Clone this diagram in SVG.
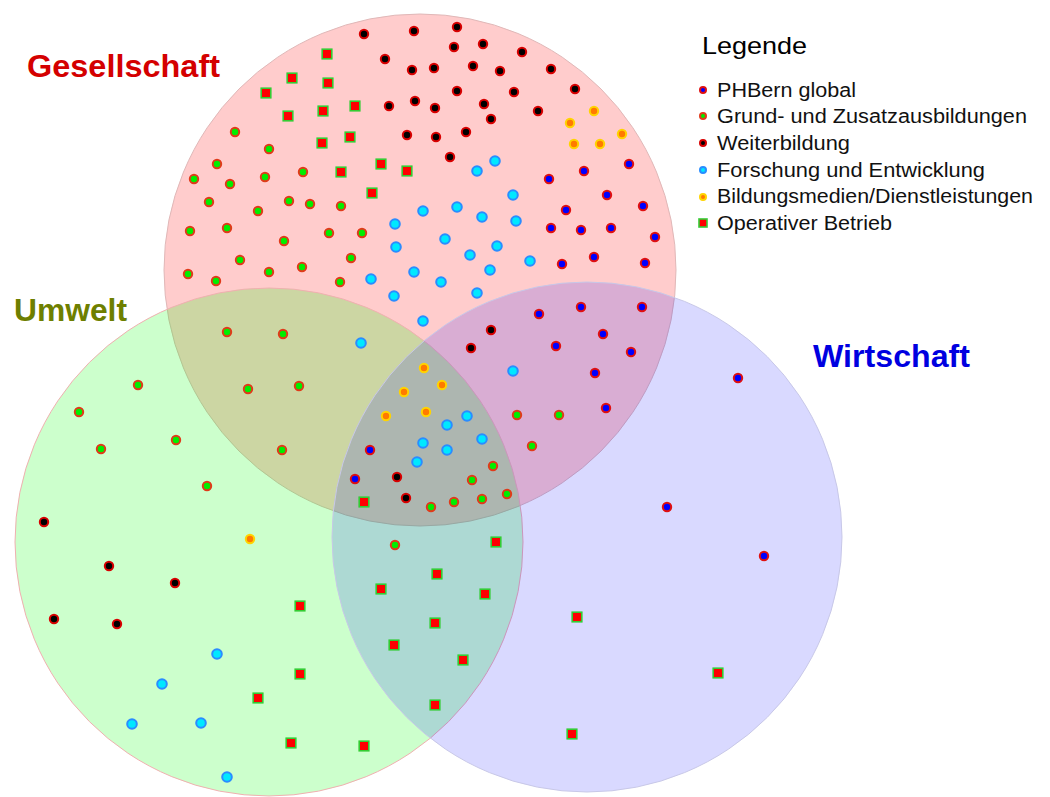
<svg xmlns="http://www.w3.org/2000/svg" xmlns:xlink="http://www.w3.org/1999/xlink" width="1050" height="797" viewBox="0 0 1050 797">
<style>
.lbl{font-family:"Liberation Sans",Arial,sans-serif;font-weight:bold;font-size:32px}
.leg{font-family:"Liberation Sans",Arial,sans-serif;font-size:19.5px;fill:#111}
.phb{fill:#0000ff;stroke:#e01010;stroke-width:2}
.gru{fill:#00ee00;stroke:#e03a1a;stroke-width:2}
.wei{fill:#000;stroke:#d80000;stroke-width:2}
.for{fill:#00e8ff;stroke:#2a8cff;stroke-width:2}
.bil{fill:#ff7a00;stroke:#ffd400;stroke-width:2}
.ope{fill:#ff0000;stroke:#33cc33;stroke-width:1.6}
</style>
<defs>
<circle id="mP" r="4.2" class="phb"/>
<circle id="mG" r="4.2" class="gru"/>
<circle id="mW" r="4.2" class="wei"/>
<circle id="mF" r="4.8" class="for"/>
<circle id="mB" r="4.2" class="bil"/>
<rect id="mO" x="-4.8" y="-4.8" width="9.6" height="9.6" class="ope"/>
</defs>
<rect width="1050" height="797" fill="#fff"/>
<g id="gesellschaft">
<circle cx="420" cy="270" r="256" fill="#ff0000" fill-opacity="0.2" stroke="#e0b8b8" stroke-width="1"/>
<text class="lbl" x="27" y="77" fill="#d40000" textLength="193" lengthAdjust="spacingAndGlyphs">Gesellschaft</text>
</g>
<g id="umwelt">
<circle cx="269" cy="542" r="254" fill="#00ff00" fill-opacity="0.2" stroke="#f0b0b0" stroke-width="1"/>
<text class="lbl" x="14" y="321" fill="#6e7f00" textLength="113" lengthAdjust="spacingAndGlyphs">Umwelt</text>
</g>
<g id="wirtschaft">
<circle cx="587" cy="537" r="255" fill="#0000ff" fill-opacity="0.15" stroke="#c8c8e8" stroke-width="1"/>
<text class="lbl" x="813" y="367" fill="#0000e0" textLength="157" lengthAdjust="spacingAndGlyphs">Wirtschaft</text>
</g>
<g id="connectors"/>
<g id="weiterbildung-dots">
<use xlink:href="#mW" x="364" y="34"/><use xlink:href="#mW" x="414" y="31"/><use xlink:href="#mW" x="457" y="27"/><use xlink:href="#mW" x="385" y="59"/><use xlink:href="#mW" x="412" y="70"/><use xlink:href="#mW" x="434" y="68"/><use xlink:href="#mW" x="454" y="47"/><use xlink:href="#mW" x="457" y="91"/><use xlink:href="#mW" x="389" y="106"/><use xlink:href="#mW" x="415" y="101"/><use xlink:href="#mW" x="435" y="108"/><use xlink:href="#mW" x="407" y="135"/><use xlink:href="#mW" x="436" y="137"/><use xlink:href="#mW" x="450" y="157"/><use xlink:href="#mW" x="483" y="44"/><use xlink:href="#mW" x="522" y="52"/><use xlink:href="#mW" x="473" y="66"/><use xlink:href="#mW" x="500" y="71"/><use xlink:href="#mW" x="551" y="69"/><use xlink:href="#mW" x="514" y="92"/><use xlink:href="#mW" x="575" y="89"/><use xlink:href="#mW" x="484" y="104"/><use xlink:href="#mW" x="491" y="119"/><use xlink:href="#mW" x="538" y="111"/><use xlink:href="#mW" x="466" y="132"/>
<use xlink:href="#mW" x="491" y="330"/><use xlink:href="#mW" x="471" y="348"/><use xlink:href="#mW" x="397" y="477"/><use xlink:href="#mW" x="406" y="498"/>
<use xlink:href="#mW" x="44" y="522"/><use xlink:href="#mW" x="109" y="566"/><use xlink:href="#mW" x="175" y="583"/><use xlink:href="#mW" x="54" y="619"/><use xlink:href="#mW" x="117" y="624"/>
</g>
<g id="grund-dots">
<use xlink:href="#mG" x="235" y="132"/><use xlink:href="#mG" x="269" y="149"/><use xlink:href="#mG" x="217" y="164"/><use xlink:href="#mG" x="194" y="179"/><use xlink:href="#mG" x="230" y="184"/><use xlink:href="#mG" x="265" y="177"/><use xlink:href="#mG" x="303" y="172"/><use xlink:href="#mG" x="209" y="202"/><use xlink:href="#mG" x="258" y="211"/><use xlink:href="#mG" x="289" y="201"/><use xlink:href="#mG" x="310" y="204"/><use xlink:href="#mG" x="341" y="206"/><use xlink:href="#mG" x="190" y="231"/><use xlink:href="#mG" x="227" y="228"/><use xlink:href="#mG" x="284" y="241"/><use xlink:href="#mG" x="329" y="233"/><use xlink:href="#mG" x="362" y="233"/><use xlink:href="#mG" x="240" y="260"/><use xlink:href="#mG" x="351" y="258"/><use xlink:href="#mG" x="188" y="274"/><use xlink:href="#mG" x="216" y="281"/><use xlink:href="#mG" x="269" y="272"/><use xlink:href="#mG" x="302" y="267"/><use xlink:href="#mG" x="340" y="282"/>
<use xlink:href="#mG" x="227" y="332"/><use xlink:href="#mG" x="283" y="334"/><use xlink:href="#mG" x="248" y="389"/><use xlink:href="#mG" x="299" y="386"/><use xlink:href="#mG" x="282" y="450"/>
<use xlink:href="#mG" x="138" y="385"/><use xlink:href="#mG" x="79" y="412"/><use xlink:href="#mG" x="176" y="440"/><use xlink:href="#mG" x="101" y="449"/><use xlink:href="#mG" x="207" y="486"/>
<use xlink:href="#mG" x="517" y="415"/><use xlink:href="#mG" x="559" y="415"/><use xlink:href="#mG" x="532" y="446"/>
<use xlink:href="#mG" x="493" y="466"/><use xlink:href="#mG" x="472" y="480"/><use xlink:href="#mG" x="431" y="507"/><use xlink:href="#mG" x="454" y="502"/><use xlink:href="#mG" x="482" y="499"/><use xlink:href="#mG" x="507" y="494"/>
<use xlink:href="#mG" x="395" y="545"/>
</g>
<g id="phbern-dots">
<use xlink:href="#mP" x="629" y="164"/><use xlink:href="#mP" x="584" y="171"/><use xlink:href="#mP" x="549" y="179"/><use xlink:href="#mP" x="607" y="195"/><use xlink:href="#mP" x="643" y="206"/><use xlink:href="#mP" x="566" y="210"/><use xlink:href="#mP" x="551" y="228"/><use xlink:href="#mP" x="581" y="230"/><use xlink:href="#mP" x="611" y="228"/><use xlink:href="#mP" x="655" y="237"/><use xlink:href="#mP" x="594" y="257"/><use xlink:href="#mP" x="562" y="264"/><use xlink:href="#mP" x="645" y="263"/>
<use xlink:href="#mP" x="539" y="314"/><use xlink:href="#mP" x="581" y="307"/><use xlink:href="#mP" x="642" y="307"/><use xlink:href="#mP" x="556" y="346"/><use xlink:href="#mP" x="603" y="334"/><use xlink:href="#mP" x="631" y="352"/><use xlink:href="#mP" x="595" y="373"/><use xlink:href="#mP" x="606" y="408"/>
<use xlink:href="#mP" x="370" y="450"/><use xlink:href="#mP" x="355" y="479"/>
<use xlink:href="#mP" x="667" y="507"/><use xlink:href="#mP" x="738" y="378"/><use xlink:href="#mP" x="764" y="556"/>
</g>
<g id="forschung-dots">
<use xlink:href="#mF" x="423" y="211"/><use xlink:href="#mF" x="457" y="207"/><use xlink:href="#mF" x="395" y="224"/><use xlink:href="#mF" x="396" y="247"/><use xlink:href="#mF" x="445" y="239"/><use xlink:href="#mF" x="414" y="272"/><use xlink:href="#mF" x="441" y="282"/><use xlink:href="#mF" x="371" y="279"/><use xlink:href="#mF" x="495" y="161"/><use xlink:href="#mF" x="477" y="171"/><use xlink:href="#mF" x="513" y="195"/><use xlink:href="#mF" x="482" y="217"/><use xlink:href="#mF" x="516" y="221"/><use xlink:href="#mF" x="497" y="246"/><use xlink:href="#mF" x="470" y="255"/><use xlink:href="#mF" x="530" y="261"/><use xlink:href="#mF" x="490" y="270"/>
<use xlink:href="#mF" x="394" y="296"/><use xlink:href="#mF" x="477" y="293"/><use xlink:href="#mF" x="423" y="321"/><use xlink:href="#mF" x="361" y="343"/><use xlink:href="#mF" x="513" y="371"/>
<use xlink:href="#mF" x="467" y="416"/><use xlink:href="#mF" x="447" y="425"/><use xlink:href="#mF" x="482" y="439"/><use xlink:href="#mF" x="423" y="443"/><use xlink:href="#mF" x="447" y="450"/><use xlink:href="#mF" x="417" y="462"/>
<use xlink:href="#mF" x="217" y="654"/><use xlink:href="#mF" x="162" y="684"/><use xlink:href="#mF" x="132" y="724"/><use xlink:href="#mF" x="201" y="723"/><use xlink:href="#mF" x="227" y="777"/>
</g>
<g id="bildungsmedien-dots">
<use xlink:href="#mB" x="594" y="111"/><use xlink:href="#mB" x="570" y="123"/><use xlink:href="#mB" x="622" y="134"/><use xlink:href="#mB" x="574" y="144"/><use xlink:href="#mB" x="600" y="144"/>
<use xlink:href="#mB" x="424" y="368"/><use xlink:href="#mB" x="442" y="385"/><use xlink:href="#mB" x="404" y="392"/><use xlink:href="#mB" x="426" y="412"/><use xlink:href="#mB" x="386" y="416"/>
<use xlink:href="#mB" x="250" y="539"/>
</g>
<g id="operativ-dots">
<use xlink:href="#mO" x="327" y="54"/><use xlink:href="#mO" x="292" y="78"/><use xlink:href="#mO" x="328" y="83"/><use xlink:href="#mO" x="266" y="93"/><use xlink:href="#mO" x="288" y="116"/><use xlink:href="#mO" x="323" y="111"/><use xlink:href="#mO" x="355" y="106"/><use xlink:href="#mO" x="322" y="143"/><use xlink:href="#mO" x="350" y="137"/><use xlink:href="#mO" x="341" y="172"/><use xlink:href="#mO" x="381" y="164"/><use xlink:href="#mO" x="407" y="171"/><use xlink:href="#mO" x="372" y="193"/>
<use xlink:href="#mO" x="364" y="502"/><use xlink:href="#mO" x="496" y="542"/><use xlink:href="#mO" x="437" y="574"/><use xlink:href="#mO" x="381" y="589"/><use xlink:href="#mO" x="485" y="594"/><use xlink:href="#mO" x="435" y="623"/><use xlink:href="#mO" x="394" y="645"/><use xlink:href="#mO" x="463" y="660"/><use xlink:href="#mO" x="435" y="705"/>
<use xlink:href="#mO" x="364" y="746"/><use xlink:href="#mO" x="300" y="606"/><use xlink:href="#mO" x="300" y="674"/><use xlink:href="#mO" x="258" y="698"/><use xlink:href="#mO" x="291" y="743"/>
<use xlink:href="#mO" x="577" y="617"/><use xlink:href="#mO" x="572" y="734"/><use xlink:href="#mO" x="718" y="673"/>
</g>
<g id="legend">
<text x="702" y="54" font-family="'Liberation Sans',Arial,sans-serif" font-size="24" fill="#000" textLength="105" lengthAdjust="spacingAndGlyphs">Legende</text>
<circle cx="703" cy="90" r="3" class="phb" stroke-width="1.5"/>
<circle cx="703" cy="116" r="3" class="gru" stroke-width="1.5"/>
<circle cx="703" cy="143" r="3" class="wei" stroke-width="1.5"/>
<circle cx="703" cy="170" r="3" class="for" stroke-width="1.5"/>
<circle cx="703" cy="197" r="3" class="bil" stroke-width="1.5"/>
<rect x="699" y="219" width="8" height="8" class="ope" stroke-width="1.5"/>
<text class="leg" x="717" y="97" textLength="139" lengthAdjust="spacingAndGlyphs">PHBern global</text>
<text class="leg" x="717" y="123" textLength="310" lengthAdjust="spacingAndGlyphs">Grund- und Zusatzausbildungen</text>
<text class="leg" x="717" y="150" textLength="133" lengthAdjust="spacingAndGlyphs">Weiterbildung</text>
<text class="leg" x="717" y="177" textLength="268" lengthAdjust="spacingAndGlyphs">Forschung und Entwicklung</text>
<text class="leg" x="717" y="203" textLength="316" lengthAdjust="spacingAndGlyphs">Bildungsmedien/Dienstleistungen</text>
<text class="leg" x="717" y="230" textLength="175" lengthAdjust="spacingAndGlyphs">Operativer Betrieb</text>
</g>
</svg>
